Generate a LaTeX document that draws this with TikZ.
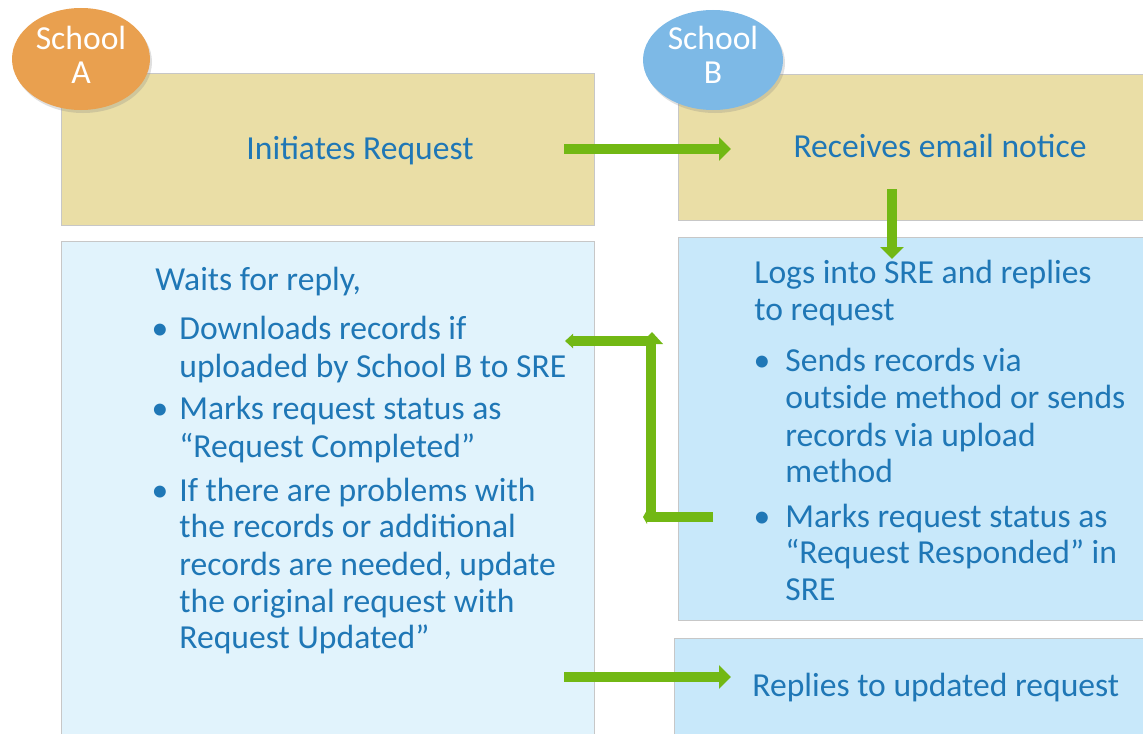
\documentclass[tikz,border=0pt]{standalone}
\usepackage{fontspec}
\setmainfont{Carlito}
\usetikzlibrary{arrows.meta,shapes.geometric,shadows}

\definecolor{txtblue}{RGB}{31,119,182}
\definecolor{sand}{RGB}{234,222,166}
\definecolor{paleblue}{RGB}{225,243,252}
\definecolor{skyblue}{RGB}{200,232,250}
\definecolor{orangeA}{RGB}{233,160,79}
\definecolor{blueB}{RGB}{125,185,230}
\definecolor{arrowgreen}{RGB}{114,184,20}

\tikzset{
  box/.style={draw=black!22, line width=0.7pt, anchor=north west, inner sep=0pt},
  school/.style={ellipse, draw=none, inner sep=0pt,
    drop shadow={shadow xshift=1pt, shadow yshift=-1.5pt, opacity=0.25}},
  schooltxt/.style={text=white, align=center, inner sep=0pt,
    font=\fontsize{16.8}{17}\selectfont},
  txt/.style={font=\fontsize{16.8}{19}\selectfont, text=txtblue, inner sep=0pt, anchor=base west},
  mid/.style={font=\fontsize{16.8}{19}\selectfont, text=txtblue, inner sep=0pt, anchor=base},
  bul/.style={font=\fontsize{16.8}{19}\selectfont, text=txtblue, inner sep=0pt, anchor=base},
  flow/.style={draw=arrowgreen, line width=5pt, -{Triangle[width=11.5pt,length=6pt]}},
  elbow/.style={draw=arrowgreen, line width=5pt, line join=miter, -{Triangle[width=7pt,length=4pt]}},
}

\begin{document}
\begin{tikzpicture}[x=0.5pt, y=-0.5pt]
\useasboundingbox (0,0) rectangle (1143,733);
\clip (0,0) rectangle (1143,733);

% boxes
\node[box, fill=sand, minimum width=266.5pt, minimum height=76pt] (topA) at (61,73) {};
\node[box, fill=sand, minimum width=241pt, minimum height=73pt] (topB) at (678,74) {};
\node[box, fill=paleblue, minimum width=266.5pt, minimum height=259.5pt] (lowA) at (61,241) {};
\node[box, fill=skyblue, minimum width=241pt, minimum height=191.5pt] (midB) at (678,237) {};
\node[box, fill=skyblue, minimum width=243pt, minimum height=61pt] (lowB) at (674,638) {};

% school labels
\node[school, fill=orangeA, minimum width=69pt, minimum height=51pt] (schA) at (81,59) {};
\node[schooltxt] (schAt) at (81,55) {School\\A};
\node[school, fill=blueB, minimum width=70pt, minimum height=50pt] (schB) at (713,60) {};
\node[schooltxt] (schBt) at (713,55) {School\\B};

% top row
\node[mid] (req) at (360,159) {Initiates Request};
\node[mid] (mail) at (940,157) {Receives email notice};

% School A, waiting side
\node[txt] (a0) at (155,290) {Waits for reply,};
\node[bul] (ab1) at (160,339) {•};
\node[txt] (a1) at (179,339) {Downloads records if};
\node[txt] (a2) at (179,377) {uploaded by School B to SRE};
\node[bul] (ab2) at (160,419) {•};
\node[txt] (a3) at (179,419) {Marks request status as};
\node[txt] (a4) at (179,457) {“Request Completed”};
\node[bul] (ab3) at (160,501) {•};
\node[txt] (a5) at (179,501) {If there are problems with};
\node[txt] (a6) at (179,537) {the records or additional};
\node[txt] (a7) at (179,575) {records are needed, update};
\node[txt] (a8) at (179,612) {the original request with};
\node[txt] (a9) at (179,648) {Request Updated”};

% School B, reply side
\node[txt] (b0) at (754,283) {Logs into SRE and replies};
\node[txt] (b1) at (754,320) {to request};
\node[bul] (bb1) at (762,371) {•};
\node[txt] (b2) at (785,371) {Sends records via};
\node[txt] (b3) at (785,408) {outside method or sends};
\node[txt] (b4) at (785,446) {records via upload};
\node[txt] (b5) at (785,482) {method};
\node[bul] (bb2) at (762,527) {•};
\node[txt] (b6) at (785,527) {Marks request status as};
\node[txt] (b7) at (785,563) {“Request Responded” in};
\node[txt] (b8) at (785,600) {SRE};

\node[txt] (upd) at (752,696) {Replies to updated request};

% connector end points
\coordinate (r1s) at (564,149);
\coordinate (r1e) at (731,149);
\coordinate (r2s) at (892,189);
\coordinate (r2e) at (892,259);
\coordinate (r3s) at (713,517);
\coordinate (r3b) at (651,517);
\coordinate (r3c) at (651,341);
\coordinate (r3e) at (565,341);
\coordinate (r4s) at (564,677);
\coordinate (r4e) at (731,677);

% connectors
\draw[flow] (r1s) -- (r1e);
\draw[flow] (r2s) -- (r2e);
\draw[elbow] (r3s) -- (r3b) -- (r3c) -- (r3e);
\fill[arrowgreen] (640,344) -- (652,332) -- (663,344) -- cycle;
\fill[arrowgreen] (647,510) -- (643,517) -- (647,524) -- cycle;
\draw[flow] (r4s) -- (r4e);
\end{tikzpicture}
\end{document}
